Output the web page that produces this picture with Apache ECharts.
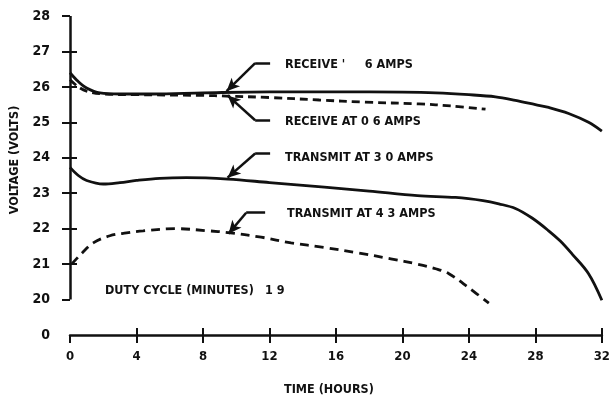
<!DOCTYPE html>
<html><head><meta charset="utf-8">
<script src="https://cdn.jsdelivr.net/npm/echarts@6/dist/echarts.min.js"></script>
<style>html,body{margin:0;padding:0;background:#fff}#c{width:613px;height:401px}</style>
</head><body><div id="c"></div>
<script>
// ---- data ----
const xTicks = [0, 4, 8, 12, 16, 20, 24, 28, 32];
const yTicks = [20, 21, 22, 23, 24, 25, 26, 27, 28];
const yBreak = 19;              // position of the broken-axis "0" label
const yBreakLabel = '0';

const recvA_t = [0, 0.5, 1, 1.8, 3, 5, 8, 12, 16, 20, 22, 24, 25.6, 26.8, 28, 28.8, 30, 31.2, 32];
const recvA_v = [26.4, 26.15, 25.97, 25.83, 25.8, 25.8, 25.83, 25.86, 25.86, 25.85, 25.83, 25.78, 25.72, 25.62, 25.5, 25.42, 25.25, 25.0, 24.75];

const recvB_t = [0, 0.5, 1, 2, 4, 8, 9.4, 12, 15, 17.7, 21, 23, 25];
const recvB_v = [26.2, 26.0, 25.88, 25.8, 25.78, 25.76, 25.74, 25.7, 25.63, 25.57, 25.52, 25.46, 25.37];

const tx30_t = [0, 0.5, 1, 2, 3, 4, 5.4, 7, 9.5, 12, 15.3, 18, 20.9, 23.2, 24.85, 25.8, 26.8, 27.8, 28.8, 29.5, 30.2, 31.2, 32];
const tx30_v = [23.73, 23.5, 23.36, 23.26, 23.3, 23.36, 23.42, 23.44, 23.4, 23.3, 23.17, 23.06, 22.93, 22.88, 22.79, 22.7, 22.57, 22.3, 21.94, 21.65, 21.29, 20.73, 19.98];

const tx43_t = [0.1, 0.7, 1.4, 2.4, 3.4, 4.4, 6.4, 8.3, 9.5, 11.5, 13.3, 15.3, 17.3, 19.3, 20.9, 22, 22.8, 24, 25.2];
const tx43_v = [21.0, 21.3, 21.6, 21.8, 21.88, 21.94, 22.0, 21.94, 21.89, 21.76, 21.6, 21.47, 21.32, 21.15, 21.0, 20.87, 20.73, 20.33, 19.9];

const labelRecvA = "RECEIVE '     6 AMPS";
const labelRecvB = 'RECEIVE AT 0 6 AMPS';
const labelTx30 = 'TRANSMIT AT 3 0 AMPS';
const labelTx43 = 'TRANSMIT AT 4 3 AMPS';
const labelDuty = 'DUTY CYCLE (MINUTES)';
const labelDutyVal = '1 9';
const xTitle = 'TIME (HOURS)';
const yTitle = 'VOLTAGE (VOLTS)';

// ---- build ----
const zip = (t, v) => t.map((x, i) => [x, v[i]]);
const FONT = "'Liberation Sans Narrow', 'DejaVu Sans Condensed', sans-serif";
const INK = '#111';

function arrow(stubFrom, stubTo, tip, curv) {
  return [
    [{ coord: stubFrom, symbol: 'none' }, { coord: stubTo, symbol: 'none' }],
    [{ coord: stubTo, symbol: 'none', lineStyle: { curveness: curv } }, { coord: tip, symbol: 'arrow', symbolSize: [9, 13] }]
  ];
}

const chart = echarts.init(document.getElementById('c'), null, { renderer: 'canvas' });
const lineCommon = { type: 'line', showSymbol: false, smooth: 0.35, silent: true, clip: false };

chart.setOption({
  animation: false,
  backgroundColor: '#fff',
  grid: { left: 70, right: 6, top: 16, bottom: 66 },
  xAxis: [
    {
      type: 'value', min: 0, max: 32, interval: 4, position: 'bottom',
      axisLine: { show: true, lineStyle: { color: INK, width: 2.5 } },
      axisTick: { show: true, length: 8, customValues: xTicks, lineStyle: { color: INK, width: 2 } },
      axisLabel: { color: INK, fontFamily: FONT, fontWeight: 'bold', fontSize: 13, margin: 15, customValues: xTicks },
      splitLine: { show: false }
    },
    {
      type: 'value', min: 0, max: 32, interval: 4, position: 'bottom', offset: 0,
      axisLine: { show: false },
      axisTick: { show: true, inside: true, length: 7, customValues: xTicks.slice(1), lineStyle: { color: INK, width: 2 } },
      axisLabel: { show: false }, splitLine: { show: false }
    }
  ],
  yAxis: [
    {
      type: 'value', min: yBreak, max: 28, interval: 1, position: 'left',
      axisLine: { show: false },
      axisTick: { show: true, length: 8, customValues: yTicks, lineStyle: { color: INK, width: 2 } },
      axisLabel: {
        color: INK, fontFamily: FONT, fontWeight: 'bold', fontSize: 14, margin: 20,
        customValues: [yBreak].concat(yTicks),
        formatter: v => (v === yBreak ? yBreakLabel : String(v))
      },
      splitLine: { show: false }
    },
    {
      type: 'value', min: yBreak, max: 28, interval: 1, position: 'left', offset: 0,
      axisLine: { show: false },
      axisTick: { show: true, inside: true, length: 7, customValues: yTicks.slice(1, -1), lineStyle: { color: INK, width: 2 } },
      axisLabel: { show: false }, splitLine: { show: false }
    }
  ],
  series: [
    Object.assign({}, lineCommon, { name: labelRecvA, data: zip(recvA_t, recvA_v), lineStyle: { color: INK, width: 2.8 } }),
    Object.assign({}, lineCommon, { name: labelRecvB, data: zip(recvB_t, recvB_v), lineStyle: { color: INK, width: 2.8, type: [8, 5] } }),
    Object.assign({}, lineCommon, { name: labelTx30, data: zip(tx30_t, tx30_v), lineStyle: { color: INK, width: 2.8 } }),
    Object.assign({}, lineCommon, { name: labelTx43, data: zip(tx43_t, tx43_v), lineStyle: { color: INK, width: 2.8, type: [9, 6] } }),
    {
      type: 'line', data: [], silent: true, clip: false,
      markLine: {
        silent: true, animation: false, symbol: 'none', label: { show: false },
        lineStyle: { color: INK, width: 2.5, type: 'solid' },
        emphasis: { disabled: true },
        data: [
          [{ coord: [0, yTicks[0]] }, { coord: [0, yTicks[yTicks.length - 1]] }],
          [{ coord: [-0.6, yBreak] }, { coord: [0, yBreak] }],
          ...arrow([12.04, 26.67], [11.14, 26.67], [9.42, 25.88], -0.3),
          ...arrow([12.04, 25.06], [11.14, 25.06], [9.48, 25.76], 0.3),
          ...arrow([12.04, 24.12], [11.14, 24.12], [9.48, 23.44], -0.3),
          ...arrow([11.74, 22.45], [10.6, 22.45], [9.54, 21.86], -0.3)
        ]
      }
    }
  ],
  graphic: [
    { type: 'text', left: 285, top: 58, style: { text: labelRecvA, font: "bold 12.5px " + FONT, fill: INK } },
    { type: 'text', left: 285, top: 115, style: { text: labelRecvB, font: "bold 12.5px " + FONT, fill: INK } },
    { type: 'text', left: 285, top: 151, style: { text: labelTx30, font: "bold 12.5px " + FONT, fill: INK } },
    { type: 'text', left: 287, top: 207, style: { text: labelTx43, font: "bold 12.5px " + FONT, fill: INK } },
    { type: 'text', left: 105, top: 284, style: { text: labelDuty, font: "bold 12.5px " + FONT, fill: INK } },
    { type: 'text', left: 265, top: 284, style: { text: labelDutyVal, font: "bold 12.5px " + FONT, fill: INK } },
    { type: 'text', left: 284, top: 383, style: { text: xTitle, font: "bold 12.5px " + FONT, fill: INK } },
    { type: 'text', x: 15, y: 160, rotation: Math.PI / 2, style: { text: yTitle, font: "bold 12.5px " + FONT, fill: INK, align: 'center', verticalAlign: 'middle' } }
  ]
});
</script>
</body></html>
